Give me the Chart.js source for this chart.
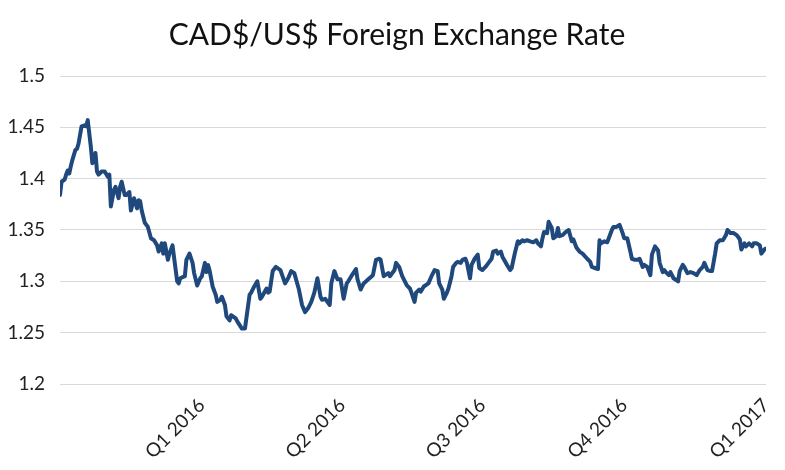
<!DOCTYPE html>
<html>
<head>
<meta charset="utf-8">
<script src="https://cdn.jsdelivr.net/npm/chart.js@4.4.1/dist/chart.umd.min.js"></script>
<style>
  html, body { margin: 0; padding: 0; background: #ffffff; }
  #wrap { width: 785px; height: 470px; position: relative; }
</style>
</head>
<body>
<div id="wrap"><canvas id="c" width="785" height="470"></canvas></div>
<script>
const chartTitle = "CAD$/US$ Foreign Exchange Rate";
const startDate = "2015-10-01";
const endDate = "2017-01-01";
const quarterDates = ["2016-01-01", "2016-04-01", "2016-07-01", "2016-10-01", "2017-01-01"];
const tickLabels = ["Q1 2016", "Q2 2016", "Q3 2016", "Q4 2016", "Q1 2017"];

const dates = [
  "2015-10-01","2015-10-02","2015-10-04","2015-10-05","2015-10-06","2015-10-07","2015-10-08","2015-10-09",
  "2015-10-11","2015-10-12","2015-10-13","2015-10-15","2015-10-17","2015-10-18","2015-10-19","2015-10-21",
  "2015-10-22","2015-10-24","2015-10-25","2015-10-26","2015-10-28","2015-10-30",
  "2015-11-01","2015-11-02","2015-11-03","2015-11-05","2015-11-06","2015-11-08","2015-11-09","2015-11-10",
  "2015-11-12","2015-11-13","2015-11-15","2015-11-16","2015-11-18","2015-11-20","2015-11-21","2015-11-22",
  "2015-11-23","2015-11-25","2015-11-27","2015-11-29",
  "2015-12-01","2015-12-03","2015-12-04","2015-12-06","2015-12-07","2015-12-08","2015-12-10","2015-12-11",
  "2015-12-13","2015-12-16","2015-12-17","2015-12-18","2015-12-21","2015-12-22","2015-12-24","2015-12-26",
  "2015-12-27","2015-12-29","2015-12-31",
  "2016-01-01","2016-01-03","2016-01-04","2016-01-05","2016-01-06","2016-01-08","2016-01-10","2016-01-11",
  "2016-01-13","2016-01-14","2016-01-16","2016-01-17","2016-01-19","2016-01-20","2016-01-21","2016-01-23",
  "2016-01-24","2016-01-27","2016-01-29",
  "2016-02-01","2016-02-02","2016-02-04","2016-02-06","2016-02-08","2016-02-09","2016-02-12","2016-02-13",
  "2016-02-14","2016-02-16","2016-02-18","2016-02-21","2016-02-24","2016-02-26","2016-02-28",
  "2016-03-01","2016-03-04","2016-03-06","2016-03-08","2016-03-10","2016-03-12","2016-03-14","2016-03-16",
  "2016-03-18","2016-03-19","2016-03-21","2016-03-24","2016-03-25","2016-03-27","2016-03-29","2016-03-31",
  "2016-04-02","2016-04-04","2016-04-05","2016-04-07","2016-04-10","2016-04-11","2016-04-13","2016-04-15",
  "2016-04-18","2016-04-21","2016-04-23","2016-04-25","2016-04-26","2016-04-28",
  "2016-05-01","2016-05-02","2016-05-05","2016-05-06","2016-05-08","2016-05-10","2016-05-13","2016-05-15",
  "2016-05-16","2016-05-18","2016-05-19","2016-05-21","2016-05-22","2016-05-24","2016-05-27","2016-05-29",
  "2016-05-31",
  "2016-06-02","2016-06-03","2016-06-05","2016-06-06","2016-06-08","2016-06-09","2016-06-11","2016-06-12",
  "2016-06-14","2016-06-15","2016-06-17","2016-06-18","2016-06-20","2016-06-21","2016-06-23","2016-06-24",
  "2016-06-26","2016-06-28","2016-06-29",
  "2016-07-01","2016-07-03","2016-07-05","2016-07-07","2016-07-08","2016-07-10","2016-07-11","2016-07-13",
  "2016-07-14","2016-07-17","2016-07-19","2016-07-20","2016-07-22","2016-07-24","2016-07-25","2016-07-27",
  "2016-07-28","2016-07-30",
  "2016-08-01","2016-08-03","2016-08-05","2016-08-06","2016-08-08","2016-08-09","2016-08-10","2016-08-12",
  "2016-08-13","2016-08-15","2016-08-16","2016-08-18","2016-08-19","2016-08-20","2016-08-22","2016-08-24",
  "2016-08-26","2016-08-28","2016-08-29","2016-08-30","2016-08-31",
  "2016-09-02","2016-09-04","2016-09-07","2016-09-09","2016-09-10","2016-09-12","2016-09-14","2016-09-15",
  "2016-09-16","2016-09-18","2016-09-20","2016-09-21","2016-09-23","2016-09-24","2016-09-26","2016-09-28",
  "2016-09-30",
  "2016-10-01","2016-10-03","2016-10-05","2016-10-06","2016-10-08","2016-10-10","2016-10-11","2016-10-13",
  "2016-10-14","2016-10-16","2016-10-18","2016-10-19","2016-10-21","2016-10-23","2016-10-24","2016-10-26",
  "2016-10-27","2016-10-28","2016-10-30","2016-10-31",
  "2016-11-02","2016-11-03","2016-11-05","2016-11-06","2016-11-08","2016-11-09","2016-11-11","2016-11-13",
  "2016-11-15","2016-11-17","2016-11-19","2016-11-21","2016-11-22","2016-11-24","2016-11-26","2016-11-27",
  "2016-11-29","2016-11-30",
  "2016-12-02","2016-12-04","2016-12-06","2016-12-07","2016-12-09","2016-12-11","2016-12-13","2016-12-15",
  "2016-12-16","2016-12-18","2016-12-19","2016-12-21","2016-12-23","2016-12-24","2016-12-26","2016-12-28",
  "2016-12-29","2016-12-31",
  "2017-01-01"
];

const rates = [
  1.384,1.397,1.399,1.404,1.408,1.405,1.412,1.418,
  1.428,1.429,1.434,1.451,1.452,1.451,1.457,1.431,
  1.415,1.425,1.407,1.404,1.407,1.407,
  1.402,1.404,1.373,1.389,1.392,1.381,1.392,1.397,
  1.384,1.384,1.387,1.369,1.381,1.371,1.379,1.378,
  1.369,1.357,1.353,1.342,
  1.340,1.335,1.329,1.337,1.327,1.337,1.321,1.327,
  1.335,1.300,1.298,1.303,1.305,1.321,1.327,1.318,
  1.308,1.296,1.303,
  1.305,1.318,1.309,1.316,1.311,1.295,1.287,1.280,
  1.282,1.285,1.277,1.266,1.262,1.267,1.266,1.264,
  1.261,1.254,1.254,
  1.287,1.289,1.295,1.300,1.283,1.285,1.293,1.289,
  1.290,1.310,1.314,1.311,1.298,1.303,1.310,
  1.308,1.292,1.277,1.270,1.274,1.280,1.289,1.303,
  1.285,1.282,1.283,1.277,1.298,1.310,1.302,1.302,
  1.283,1.298,1.300,1.305,1.312,1.302,1.292,1.298,
  1.302,1.306,1.321,1.322,1.321,1.305,
  1.308,1.305,1.311,1.318,1.314,1.305,1.296,1.293,
  1.289,1.280,1.289,1.292,1.290,1.295,1.298,1.305,
  1.311,
  1.310,1.298,1.292,1.283,1.289,1.293,1.305,1.314,
  1.318,1.319,1.318,1.321,1.322,1.318,1.303,1.316,
  1.322,1.326,1.313,
  1.311,1.314,1.318,1.322,1.329,1.330,1.327,1.329,
  1.324,1.316,1.311,1.313,1.327,1.339,1.337,1.340,
  1.339,1.340,
  1.339,1.338,1.340,1.337,1.334,1.342,1.348,1.347,
  1.358,1.352,1.342,1.344,1.352,1.344,1.345,1.348,
  1.350,1.339,1.341,1.337,1.333,
  1.329,1.327,1.322,1.319,1.314,1.313,1.312,1.340,
  1.337,1.339,1.338,1.342,1.350,1.353,1.353,1.355,
  1.347,
  1.342,1.342,1.329,1.322,1.321,1.321,1.322,1.314,
  1.316,1.314,1.306,1.326,1.334,1.330,1.318,1.309,
  1.311,1.309,1.306,1.309,
  1.303,1.302,1.300,1.310,1.316,1.314,1.308,1.309,
  1.308,1.306,1.311,1.314,1.318,1.311,1.310,1.310,
  1.327,1.337,
  1.340,1.340,1.345,1.350,1.347,1.347,1.345,1.341,
  1.331,1.337,1.334,1.337,1.334,1.337,1.337,1.335,
  1.327,1.331,
  1.332
];

const DAY = 86400000;
function dayIndex(s) {
  const p = s.split("-").map(Number);
  const b = startDate.split("-").map(Number);
  return Math.round((Date.UTC(p[0], p[1] - 1, p[2]) - Date.UTC(b[0], b[1] - 1, b[2])) / DAY);
}
const points = dates.map((d, i) => ({ x: dayIndex(d), y: rates[i] }));
const quarterTicks = quarterDates.map(dayIndex);

const FONT = "Lato, 'Open Sans', sans-serif";

new Chart(document.getElementById("c"), {
  type: "line",
  data: {
    datasets: [{
      data: points,
      borderColor: "#1f497d",
      borderWidth: 4,
      pointRadius: 0,
      tension: 0,
      fill: false,
      borderJoinStyle: "round",
      borderCapStyle: "round"
    }]
  },
  options: {
    responsive: false,
    animation: false,
    layout: { padding: { left: 9, right: 0, top: 0, bottom: 0 } },
    plugins: {
      legend: { display: false },
      tooltip: { enabled: false },
      title: {
        display: true,
        text: chartTitle,
        color: "#111111",
        font: { family: FONT, size: 30, weight: "normal" },
        padding: { top: 17, bottom: 23 }
      }
    },
    scales: {
      x: {
        type: "linear",
        min: dayIndex(startDate),
        max: dayIndex(endDate),
        afterBuildTicks: (scale) => { scale.ticks = quarterTicks.map(v => ({ value: v })); },
        afterFit: (scale) => {
          scale.height = 86;
          scale.paddingLeft = 0;
          scale.paddingRight = 19;
        },
        grid: { display: false, drawTicks: false },
        border: { display: false },
        ticks: {
          autoSkip: false,
          maxRotation: 45,
          minRotation: 45,
          padding: 10,
          color: "#222222",
          font: { family: FONT, size: 19 },
          callback: (v) => {
            const i = quarterTicks.indexOf(v);
            return i >= 0 ? tickLabels[i] : "";
          }
        }
      },
      y: {
        min: 1.2,
        max: 1.5,
        afterFit: (scale) => { scale.width = 51; },
        grid: { color: "#d9d9d9", lineWidth: 1, drawTicks: false },
        border: { display: false },
        ticks: {
          stepSize: 0.05,
          padding: 15,
          color: "#222222",
          font: { family: FONT, size: 19 },
          callback: (v) => String(Number(v.toFixed(2)))
        }
      }
    }
  }
});
</script>
</body>
</html>
